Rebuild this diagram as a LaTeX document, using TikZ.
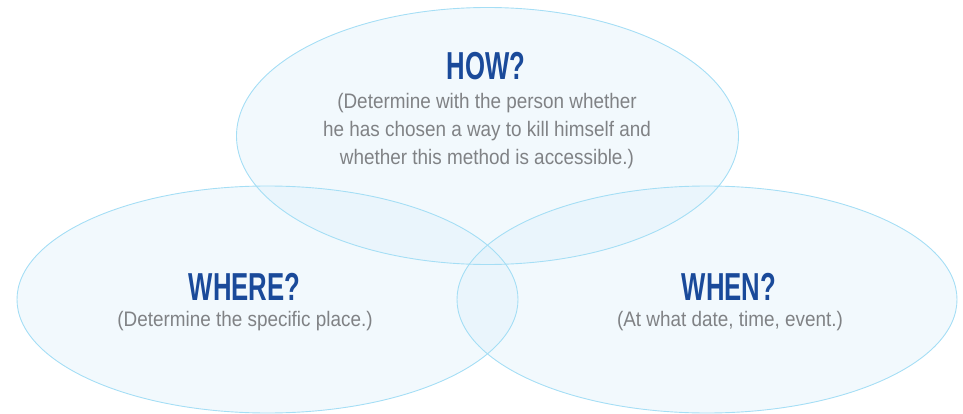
\documentclass[tikz,border=0pt]{standalone}
\usepackage{fontspec}
\newfontfamily\titlefont{Liberation Sans}[FakeStretch=0.66]
\newfontfamily\bodyfont{Liberation Sans}[FakeStretch=0.9]
\definecolor{ringfill}{RGB}{222,240,250}
\definecolor{ringline}{RGB}{165,222,245}
\definecolor{titleblue}{RGB}{26,74,154}
\definecolor{bodygray}{RGB}{128,130,133}
\tikzset{
  ringarea/.style={fill=ringfill,fill opacity=0.4,draw=none},
  ringedge/.style={draw=ringline,line width=0.9pt},
  qtitle/.style={anchor=base,inner sep=0pt,text=titleblue,font=\titlefont\bfseries\fontsize{39}{39}\selectfont},
  qbody/.style={anchor=base,inner sep=0pt,text=bodygray,font=\bodyfont\fontsize{21}{28}\selectfont}
}
\begin{document}
\begin{tikzpicture}[x=1pt,y=-1pt]
\useasboundingbox (0,0) rectangle (963,414);
% fills
\fill[ringarea] (487.5,136) ellipse [x radius=251pt,y radius=128.5pt];
\fill[ringarea] (267.5,299.5) ellipse [x radius=250.5pt,y radius=113.5pt];
\fill[ringarea] (707,299.5) ellipse [x radius=250pt,y radius=113.5pt];
% outlines
\draw[ringedge] (487.5,136) ellipse [x radius=251pt,y radius=128.5pt];
\draw[ringedge] (267.5,299.5) ellipse [x radius=250.5pt,y radius=113.5pt];
\draw[ringedge] (707,299.5) ellipse [x radius=250pt,y radius=113.5pt];
% texts
\node[qtitle] (howt) at (486,79.5) {HOW?};
\node[qbody] (how1) at (487,109) {(Determine with the person whether};
\node[qbody] (how2) at (487,137) {he has chosen a way to kill himself and};
\node[qbody] (how3) at (487,165) {whether this method is accessible.)};
\node[qtitle] (wheret) at (244.5,300) {WHERE?};
\node[qbody] (where1) at (245,326.5) {(Determine the specific place.)};
\node[qtitle] (whent) at (729,300) {WHEN?};
\node[qbody] (when1) at (730,326.5) {(At what date, time, event.)};
\end{tikzpicture}
\end{document}
